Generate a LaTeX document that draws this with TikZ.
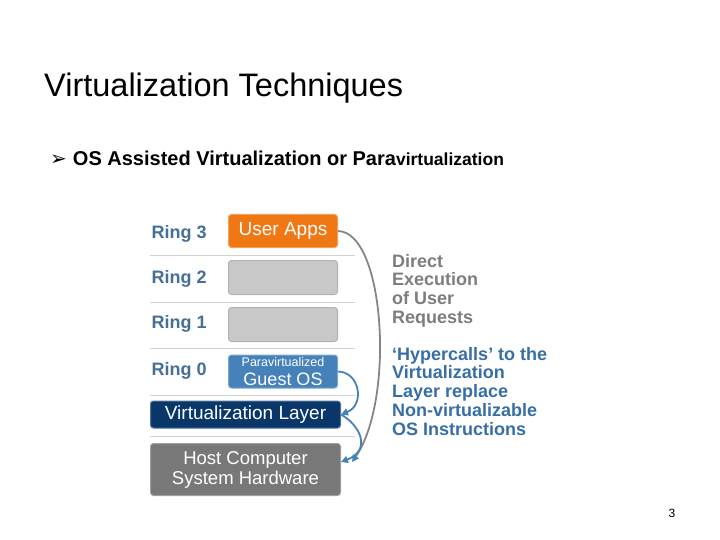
\documentclass[tikz,border=0pt]{standalone}
\usepackage{fontspec}
\setmainfont{Liberation Sans}
\newfontfamily\djv{DejaVu Sans}
\usetikzlibrary{arrows.meta}
\definecolor{ringblue}{RGB}{70,110,150}
\definecolor{uorange}{RGB}{240,120,20}
\definecolor{gbox}{RGB}{200,200,200}
\definecolor{gosblue}{RGB}{70,130,185}
\definecolor{navy}{RGB}{10,55,105}
\definecolor{hgray}{RGB}{120,120,120}
\definecolor{dtext}{RGB}{125,125,125}
\definecolor{htext}{RGB}{55,110,165}
\begin{document}
\begin{tikzpicture}[x=1pt,y=-1pt,
  ring/.style={anchor=west,text=ringblue,font=\fontsize{18}{19}\selectfont\bfseries},
  boxs/.style={draw=#1!70!white,line width=1pt,fill=#1,rounded corners=3pt,text=white,inner sep=0pt},
  sep/.style={draw=gray!35,line width=0.8pt},
  rtext/.style={anchor=north west,align=left,font=\fontsize{18}{18.7}\selectfont\bfseries,inner sep=0pt}]
\useasboundingbox (0,0) rectangle (720,540);
\node[anchor=west,inner sep=0pt,font=\fontsize{32.5}{34}\selectfont] (title) at (44,88) {Virtualization Techniques};
\node[anchor=west,inner sep=0pt,font=\fontsize{20}{22}\selectfont\bfseries] (bul) at (50,158) {{\djv\fontsize{20}{22}\selectfont ➢}\hspace{6pt}OS Assisted Virtualization or Para{\fontsize{17.5}{18}\selectfont virtualization}};
\node[ring] (r3) at (148,234) {Ring 3};
\node[ring] (r2) at (148,279) {Ring 2};
\node[ring] (r1) at (148,324) {Ring 1};
\node[ring] (r0) at (148,371) {Ring 0};
\draw[sep] (150,255) -- (355,255);
\draw[sep] (150,302) -- (355,302);
\draw[sep] (150,348) -- (355,348);
\draw[sep] (150,395) -- (355,395);
\draw[sep] (150,436) -- (355,436);
\node[boxs=uorange,minimum width=109pt,minimum height=33pt,font=\fontsize{19}{20}\selectfont] (ua) at (283,231) {User Apps};
\node[boxs=gbox,draw=gray!60,minimum width=109pt,minimum height=34pt] (g2) at (283,277.5) {};
\node[boxs=gbox,draw=gray!60,minimum width=109pt,minimum height=34pt] (g1) at (283,324.5) {};
\node[boxs=gosblue,minimum width=109pt,minimum height=33pt] (gos) at (283,371.5) {};
\node[text=white,inner sep=0pt,font=\fontsize{12.5}{13}\selectfont] (gos1) at (283,362) {Paravirtualized};
\node[text=white,inner sep=0pt,font=\fontsize{18}{18}\selectfont] (gos2) at (283,379) {Guest OS};
\node[boxs=navy,minimum width=190pt,minimum height=27pt,font=\fontsize{19}{20}\selectfont] (vl) at (245.5,414.5) {Virtualization Layer};
\node[boxs=hgray,minimum width=190pt,minimum height=52pt,align=center,font=\fontsize{18.5}{20}\selectfont] (hw) at (245.5,469.5) {Host Computer\\System Hardware};
\coordinate (a2) at (352,462);
\draw[hgray!90,line width=1.8pt,-{Triangle[length=7pt,width=7pt,fill=gosblue,color=gosblue]}] (ua.east) .. controls (385,232) and (395,400) .. (a2);
\draw[gosblue,line width=1.8pt,-{Triangle[length=7pt,width=7pt]}] (gos.east) .. controls (360,372) and (365,405) .. (vl.east);
\draw[gosblue,line width=1.8pt,-{Triangle[length=7pt,width=7pt]}] (vl.east) .. controls (360,425) and (372,450) .. (hw.east |- a2);
\node[rtext,text=dtext] (d) at (392,254) {Direct\\Execution\\of User\\Requests};
\node[rtext,text=htext] (h) at (392,347) {‘Hypercalls’ to the\\Virtualization\\Layer replace\\Non-virtualizable\\OS Instructions};
\node[font=\fontsize{12}{14}\selectfont] (pn) at (672,513) {3};
\end{tikzpicture}
\end{document}
